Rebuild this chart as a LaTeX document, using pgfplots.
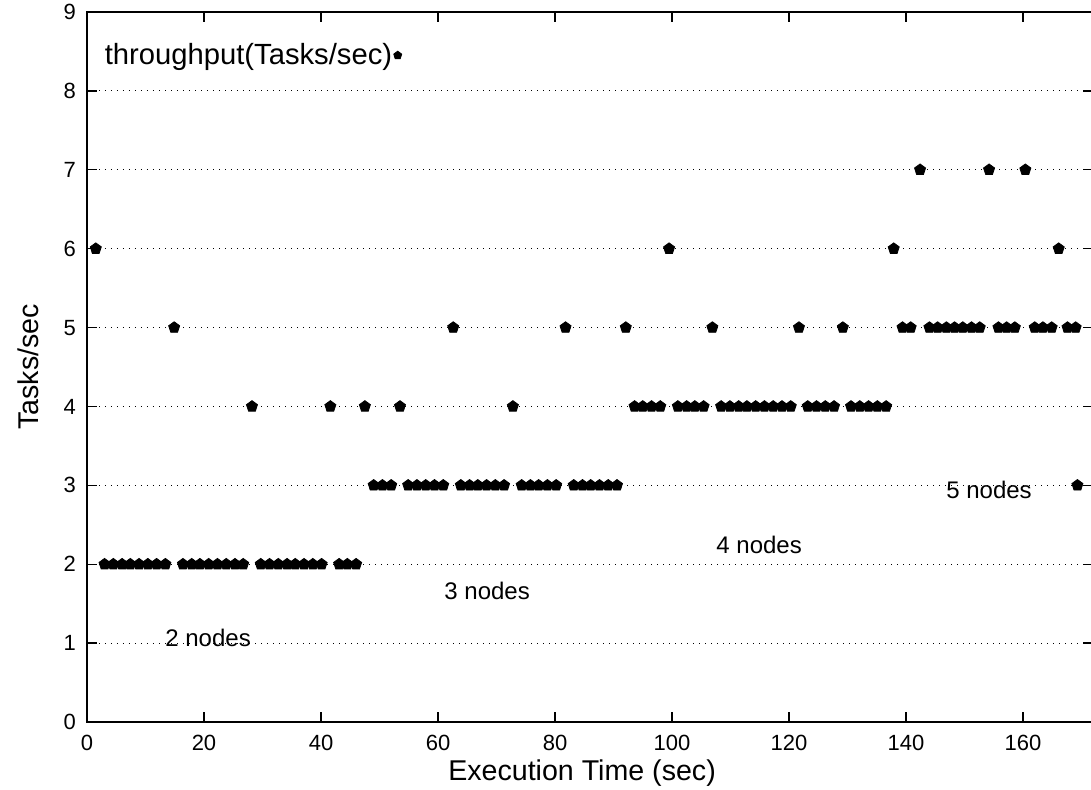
\documentclass[border=0pt]{standalone}
\usepackage{pgfplots}
\pgfplotsset{compat=1.18}
\usepackage{fontspec}
\setmainfont{Liberation Sans}
\pgfplotstableread{
t y
1.5 6
3.0 2
4.5 2
6.0 2
7.4 2
8.9 2
10.4 2
11.9 2
13.4 2
14.9 5
16.4 2
17.9 2
19.3 2
20.8 2
22.3 2
23.8 2
25.3 2
26.7 2
28.2 4
29.7 2
31.2 2
32.7 2
34.2 2
35.6 2
37.1 2
38.6 2
40.1 2
41.6 4
43.1 2
44.5 2
46.0 2
47.5 4
49.0 3
50.5 3
52.0 3
53.5 4
54.9 3
56.4 3
57.9 3
59.4 3
60.9 3
62.6 5
63.9 3
65.4 3
66.8 3
68.3 3
69.8 3
71.3 3
72.8 4
74.3 3
75.8 3
77.2 3
78.7 3
80.2 3
81.8 5
83.2 3
84.7 3
86.1 3
87.6 3
89.1 3
90.6 3
92.1 5
93.6 4
95.0 4
96.5 4
98.0 4
99.5 6
101.0 4
102.5 4
103.9 4
105.4 4
106.9 5
108.4 4
109.9 4
111.4 4
112.8 4
114.3 4
115.8 4
117.3 4
118.8 4
120.3 4
121.7 5
123.2 4
124.7 4
126.2 4
127.7 4
129.2 5
130.6 4
132.1 4
133.6 4
135.1 4
136.6 4
137.9 6
139.4 5
140.8 5
142.4 7
144.0 5
145.4 5
146.9 5
148.3 5
149.7 5
151.2 5
152.6 5
154.2 7
155.8 5
157.2 5
158.6 5
160.4 7
162.0 5
163.4 5
164.9 5
166.1 6
167.6 5
169.0 5
169.3 3
}\datatable
\begin{document}
\begin{tikzpicture}[x=1pt,y=1pt]
\useasboundingbox (-43.5,-33.5) rectangle (502,361);
\begin{axis}[
  at={(0,0)}, anchor=south west,
  scale only axis, width=503.1pt, height=355pt,
  xmin=0, xmax=172, ymin=0, ymax=9,
  xtick={0,20,...,160}, ytick={0,1,...,9},
  ymajorgrids,
  grid style={black, line width=0.5pt, dash pattern=on 0.6pt off 2.4pt},
  tick align=inside, major tick length=5pt,
  axis line style={line width=0.9pt},
  tick style={line width=0.7pt, black},
  /pgf/number format/assume math mode=true,
  tick label style={font=\fontsize{11}{13}\selectfont},
  xticklabel style={yshift=-3pt},
  yticklabel style={xshift=-2pt},
  xlabel={Execution Time (sec)}, ylabel={Tasks/sec},
  label style={font=\fontsize{14.3}{17}\selectfont},
  xlabel style={at={(axis description cs:0.492,-0.072)}, anchor=center},
  ylabel style={at={(axis description cs:-0.0585,0.5)}, anchor=center},
  legend plot pos=right,
  legend style={at={(axis cs:53.9,8.45)}, anchor=east, draw=none, fill=none,
    font=\fontsize{14.6}{16}\selectfont, inner sep=0pt,
    nodes={inner xsep=0.5pt, inner ysep=1pt}},
  legend image code/.code={\path[draw=none,fill=none] (0pt,0pt) rectangle (4.4pt,0pt); \draw[mark=pentagon*, mark size=2.1pt, black] plot coordinates {(2.3pt,0pt)};},
]
\addplot[only marks, mark=pentagon*, mark size=2.9pt, black] table[x=t,y=y]{\datatable};
\addlegendentry{throughput(Tasks/sec)}
\node[font=\fontsize{12}{14}\selectfont] at (axis cs:20.7,1.06) {2 nodes};
\node[font=\fontsize{12}{14}\selectfont] at (axis cs:68.4,1.66) {3 nodes};
\node[font=\fontsize{12}{14}\selectfont] at (axis cs:114.9,2.24) {4 nodes};
\node[font=\fontsize{12}{14}\selectfont] at (axis cs:154.2,2.94) {5 nodes};
\end{axis}
\end{tikzpicture}
\end{document}
